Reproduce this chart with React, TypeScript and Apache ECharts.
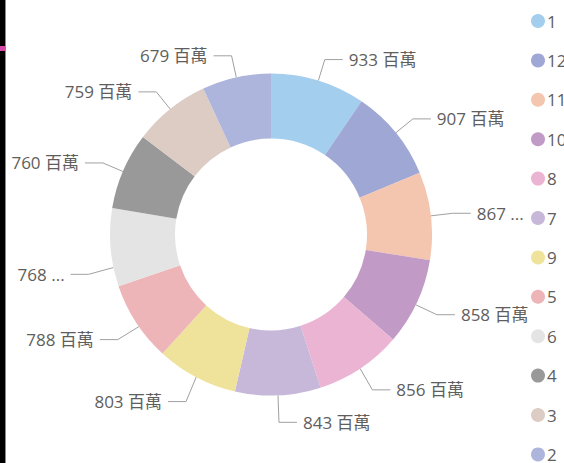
import React, { useEffect, useRef } from "react";
import * as echarts from "echarts";

const categories = ["1", "12", "11", "10", "8", "7", "9", "5", "6", "4", "3", "2"];
const values = [933, 907, 867, 858, 856, 843, 803, 788, 768, 760, 759, 679];
const colors = [
  "#A4CEEE", "#9FA7D4", "#F4C5AF", "#C29AC6", "#ECB4D3", "#C7B8DA",
  "#EFE29A", "#EEB5B9", "#E4E4E4", "#999999", "#DDCCC4", "#AEB5DC",
];
const truncated = ["11", "6"];
const unit = "百萬";

// layout-only vertical nudges for some outside labels (px)
const LABEL_NUDGE: Record<string, number> = {
  "10": 3, "8": 3, "7": 5, "9": 5, "5": 5, "6": 25, "4": 1,
};

const CX = 271;
const CY = 234.5;
const R_OUT = 161;
const FONT = "'Open Sans', 'Noto Sans CJK TC', sans-serif";
const TEXT = "#605E5C";

export default function App() {
  const ref = useRef<HTMLDivElement>(null);
  useEffect(() => {
    if (!ref.current) return;
    const chart = echarts.init(ref.current, undefined, { renderer: "svg" });
    chart.setOption({
      animation: false,
      backgroundColor: "#ffffff",
      color: colors,
      legend: {
        orient: "vertical",
        left: 526,
        top: 6,
        height: 600,
        icon: "circle",
        itemWidth: 14,
        itemHeight: 14,
        itemGap: 19.4,
        data: categories,
        textStyle: {
          color: TEXT,
          fontSize: 17,
          lineHeight: 20,
          fontFamily: FONT,
          padding: [0, 0, 0, -3],
        },
      },
      graphic: [
        { type: "rect", shape: { x: 0, y: 0, width: 5, height: 463 }, style: { fill: "#000000" } },
        { type: "rect", shape: { x: 5, y: 0, width: 1, height: 463 }, style: { fill: "#8a8a8a" } },
        { type: "rect", shape: { x: 0, y: 46, width: 5, height: 5 }, style: { fill: "#D64AA5" } },
      ],
      series: [
        {
          type: "pie",
          center: [CX, CY],
          radius: [96, R_OUT],
          startAngle: 90,
          clockwise: true,
          avoidLabelOverlap: false,
          label: {
            show: true,
            position: "outside",
            color: TEXT,
            fontSize: 17,
            fontFamily: FONT,
            distanceToLabelLine: 6,
            formatter: (p: any) =>
              truncated.includes(p.name) ? `${p.value} ...` : `${p.value} ${unit}`,
          },
          labelLine: {
            show: true,
            length: 22,
            length2: 18,
            lineStyle: { color: "#A0A0A0", width: 1 },
          },
          labelLayout: (params: any) => {
            const name = categories[params.dataIndex];
            const d = LABEL_NUDGE[name] || 0;
            if (!d || !params.labelLinePoints) return {};
            const src = params.labelLinePoints;
            let p0 = [src[0][0], src[0][1]];
            const ny = p0[1] + d * 0.8;
            if (Math.abs(ny - CY) < R_OUT * 0.8) {
              const side = p0[0] < CX ? -1 : 1;
              p0 = [CX + side * Math.sqrt(R_OUT * R_OUT - (ny - CY) * (ny - CY)), ny];
            }
            const pts = [p0, [src[1][0], src[1][1] + d], [src[2][0], src[2][1] + d]];
            return {
              y: params.labelRect.y + params.labelRect.height / 2 + d,
              labelLinePoints: pts,
            };
          },
          itemStyle: { borderWidth: 0 },
          data: categories.map((c, i) => ({ name: c, value: values[i] })),
        },
      ],
    });
    return () => chart.dispose();
  }, []);
  return (
    <div
      ref={ref}
      style={{ position: "absolute", left: 0, top: 0, width: 564, height: 463 }}
    />
  );
}
